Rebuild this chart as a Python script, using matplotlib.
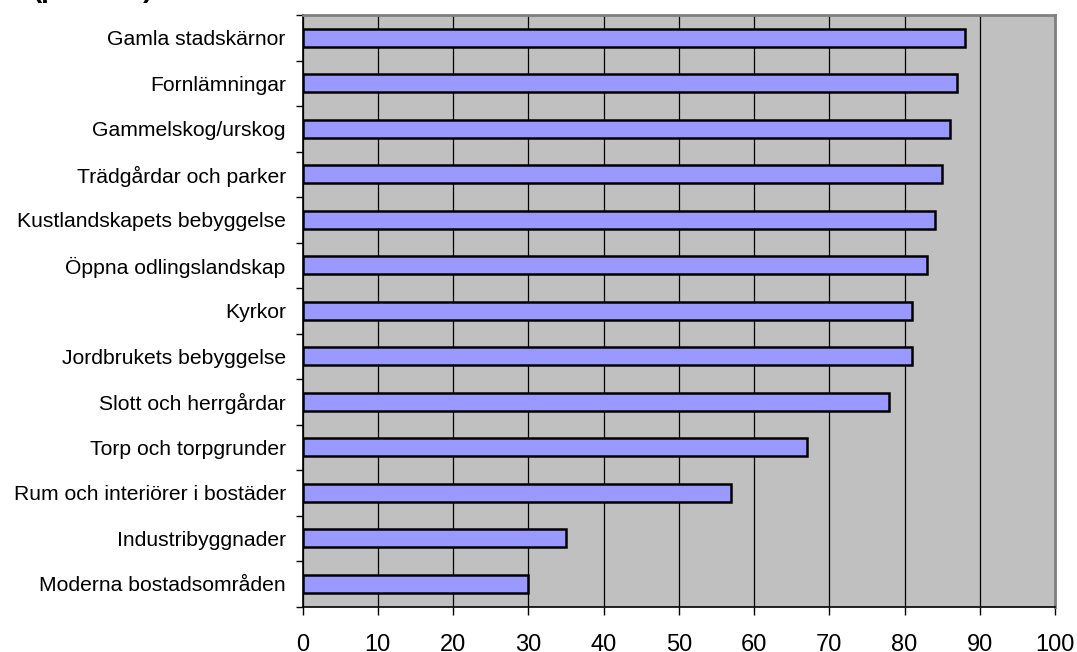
"""Horizontal bar chart: share (procent) per environment type, Excel-style."""
import matplotlib

matplotlib.use("Agg")
import matplotlib.pyplot as plt  # noqa: E402
import numpy as np  # noqa: E402

# ---------------------------------------------------------------------------
# Data (top to bottom as shown)
# ---------------------------------------------------------------------------
CATEGORIES = [
    "Gamla stadskärnor",
    "Fornlämningar",
    "Gammelskog/urskog",
    "Trädgårdar och parker",
    "Kustlandskapets bebyggelse",
    "Öppna odlingslandskap",
    "Kyrkor",
    "Jordbrukets bebyggelse",
    "Slott och herrgårdar",
    "Torp och torpgrunder",
    "Rum och interiörer i bostäder",
    "Industribyggnader",
    "Moderna bostadsområden",
]
VALUES = [88, 87, 86, 85, 84, 83, 81, 81, 78, 67, 57, 35, 30]
X_TICKS = list(range(0, 101, 10))
TITLE = "(procent)"

BAR_COLOR = "#9999FF"
PLOT_BG = "#C0C0C0"
FONT = "Liberation Sans"

plt.rcParams["font.family"] = [FONT, "DejaVu Sans"]

fig = plt.figure(figsize=(10.77, 6.52), dpi=100)
W, H = 1077, 652
left, right, top, bottom = 302.5, 1055, 15, 606.5
ax = fig.add_axes([left / W, 1 - bottom / H, (right - left) / W, (bottom - top) / H])
ax.set_facecolor(PLOT_BG)

n = len(CATEGORIES)
y = np.arange(n)[::-1]
ax.barh(y, VALUES, height=0.4, color=BAR_COLOR, edgecolor="black",
        linewidth=1.8, zorder=3)

ax.set_xlim(0, 100)
ax.set_ylim(-0.5, n - 0.5)
ax.set_xticks(X_TICKS)
ax.set_xticklabels([str(t) for t in X_TICKS], fontsize=17)
ax.xaxis.grid(True, color="black", linewidth=0.9, zorder=1)
ax.set_axisbelow(True)

# category labels at centres, tick marks between categories
ax.set_yticks(y)
ax.set_yticklabels(CATEGORIES, fontsize=15.2)
ax.tick_params(axis="y", length=0, pad=12)
ax.set_yticks(np.arange(n + 1) - 0.5, minor=True)
ax.tick_params(axis="y", which="minor", length=5, width=1, direction="out")
ax.tick_params(axis="x", length=6, width=1, direction="out", pad=13.5)

for side in ("left", "bottom"):
    ax.spines[side].set_color("black")
    ax.spines[side].set_linewidth(1.2)
for side in ("top", "right"):
    ax.spines[side].set_color("#808080")
    ax.spines[side].set_linewidth(2)

# title sits above the canvas, only the bottoms of its glyphs show
fig.text(33 / W, 1 + 3 / H, TITLE, fontsize=20, fontweight="bold",
         ha="left", va="baseline")

fig.savefig("out.png", dpi=100)
